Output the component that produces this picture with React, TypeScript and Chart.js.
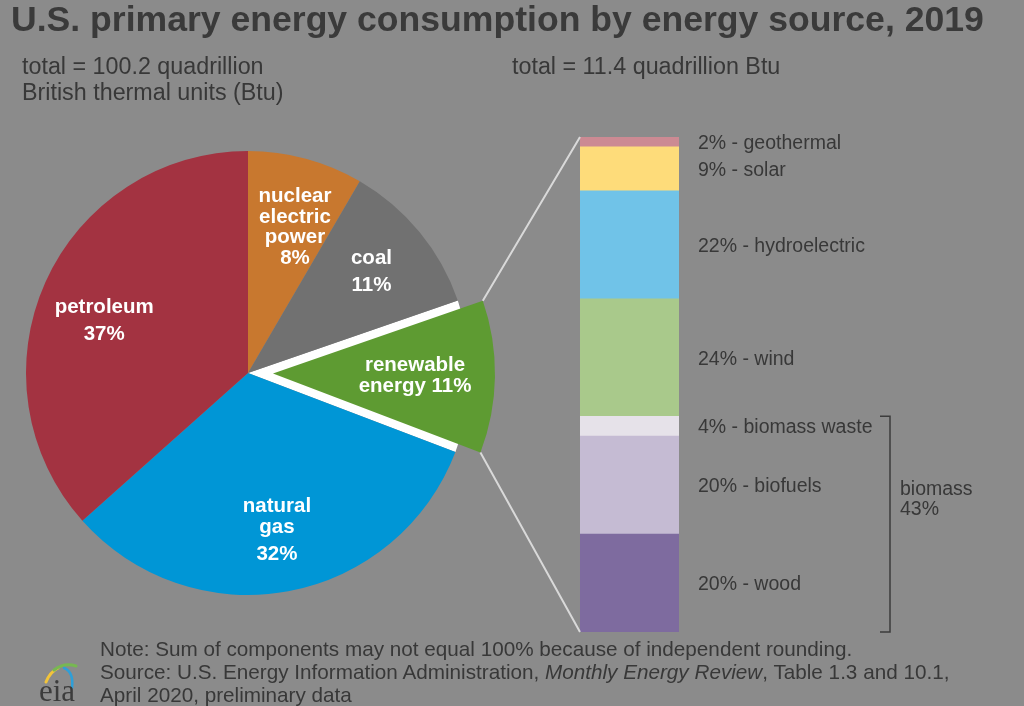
import React, { useEffect, useRef } from 'react';
import { Chart, registerables } from 'chart.js';

Chart.register(...registerables);

// ---- data ----
const pieCategories = ['nuclear electric power', 'coal', 'renewable energy', 'natural gas', 'petroleum'];
const pieValues = [8.4, 11.3, 11.1, 32.6, 36.6];
const pieLabelLines = [
  ['nuclear', 'electric', 'power', '8%'],
  ['coal', '11%'],
  ['renewable', 'energy 11%'],
  ['natural', 'gas', '32%'],
  ['petroleum', '37%'],
];
const renewableCategories = ['wood', 'biofuels', 'biomass waste', 'wind', 'hydroelectric', 'solar', 'geothermal'];
const renewableShares = [20, 20, 4, 24, 22, 9, 2];
const biomassShare = 43;
const pieTotalText = ['total = 100.2 quadrillion', 'British thermal units (Btu)'];
const renewableTotalText = 'total = 11.4 quadrillion Btu';

// ---- styles ----
const BG = '#8b8b8b';
const TEXT = '#383838';
const FONT = '"Liberation Sans", Arial, Helvetica, sans-serif';
const pieColors = ['#c8782f', '#717171', '#5e9b32', '#0096d6', '#a33341'];
const renewableColors = ['#7e6b9f', '#c5bbd3', '#e6e2e9', '#a9c98b', '#70c3e8', '#fedc7a', '#cc8a93'];
const RENEW_INDEX = 2;
const EXPLODE = 25;
const labelRadius = [0.69, 0.72, 0.64, 0.72, 0.69];
const labelNudge = [[7, 2], [0, 0], [0, 0], [0, 0], [-4, 10]];
const labelGaps = [[20.5, 20.5, 20.5], [27], [20.5], [21, 27], [27]];

export default function App() {
  const pieCanvas = useRef<HTMLCanvasElement | null>(null);
  const barCanvas = useRef<HTMLCanvasElement | null>(null);

  useEffect(() => {
    let base = { x: 0, y: 0 };
    const piePlugin = {
      id: 'pieExtras',
      afterDatasetUpdate(chart: any) {
        const arc: any = chart.getDatasetMeta(0).data[RENEW_INDEX];
        const mid = (arc.startAngle + arc.endAngle) / 2;
        base = { x: arc.x, y: arc.y };
        arc.x = base.x + Math.cos(mid) * EXPLODE;
        arc.y = base.y + Math.sin(mid) * EXPLODE;
      },
      beforeDatasetsDraw(chart: any) {
        const arc: any = chart.getDatasetMeta(0).data[RENEW_INDEX];
        const ctx = chart.ctx;
        ctx.save();
        ctx.fillStyle = '#ffffff';
        ctx.beginPath();
        ctx.moveTo(base.x, base.y);
        ctx.arc(base.x, base.y, arc.outerRadius, arc.startAngle, arc.endAngle);
        ctx.closePath();
        ctx.fill();
        ctx.restore();
      },
      afterDatasetsDraw(chart: any) {
        const ctx = chart.ctx;
        const arcs: any[] = chart.getDatasetMeta(0).data;
        ctx.save();
        ctx.fillStyle = '#ffffff';
        ctx.font = `bold 20.5px ${FONT}`;
        ctx.textAlign = 'center';
        ctx.textBaseline = 'middle';
        arcs.forEach((arc, i) => {
          const mid = (arc.startAngle + arc.endAngle) / 2;
          const r = arc.outerRadius * labelRadius[i];
          const cx = arc.x + Math.cos(mid) * r + labelNudge[i][0];
          const cy = arc.y + Math.sin(mid) * r + labelNudge[i][1];
          const lines = pieLabelLines[i];
          const gaps = labelGaps[i];
          const total = gaps.reduce((a, b) => a + b, 0);
          let y = cy - total / 2;
          lines.forEach((line, j) => {
            ctx.fillText(line, cx, y);
            if (j < gaps.length) y += gaps[j];
          });
        });
        ctx.restore();
      },
    };

    const pie = new Chart(pieCanvas.current!, {
      type: 'pie',
      data: {
        labels: pieCategories,
        datasets: [{ data: pieValues, backgroundColor: pieColors, borderWidth: 0, hoverOffset: 0 }],
      },
      options: {
        responsive: false,
        animation: false,
        devicePixelRatio: 1,
        radius: 222,
        layout: { padding: { left: 26, right: 554, top: 151, bottom: 111 } },
        plugins: { legend: { display: false }, tooltip: { enabled: false }, title: { display: false } },
        events: [],
      } as any,
      plugins: [piePlugin],
    });

    const barPlugin = {
      id: 'barExtras',
      afterDatasetsDraw(chart: any) {
        const ctx = chart.ctx;
        const bars: any[] = renewableShares.map((_, i) => chart.getDatasetMeta(i).data[0]);
        const left = bars[0].x - bars[0].width / 2;
        const right = bars[0].x + bars[0].width / 2;
        const top = bars[bars.length - 1].y;
        const bottom = bars[0].base;

        // connector lines from the exploded slice
        const arc: any = pie.getDatasetMeta(0).data[RENEW_INDEX];
        const R = arc.outerRadius;
        ctx.save();
        ctx.strokeStyle = '#d9d9d9';
        ctx.lineWidth = 2;
        ctx.beginPath();
        ctx.moveTo(arc.x + Math.cos(arc.startAngle) * R, arc.y + Math.sin(arc.startAngle) * R);
        ctx.lineTo(left, top);
        ctx.moveTo(arc.x + Math.cos(arc.endAngle) * R, arc.y + Math.sin(arc.endAngle) * R);
        ctx.lineTo(left, bottom);
        ctx.stroke();

        // segment labels
        ctx.fillStyle = TEXT;
        ctx.font = `19.5px ${FONT}`;
        ctx.textAlign = 'left';
        ctx.textBaseline = 'alphabetic';
        bars.forEach((b, i) => {
          const cy = (b.y + b.base) / 2;
          ctx.fillText(`${renewableShares[i]}% - ${renewableCategories[i]}`, right + 19, cy + 7);
        });

        // biomass bracket
        const bTop = bars[2].y;
        const bBottom = bars[0].base;
        const bx = right + 211;
        ctx.strokeStyle = '#3c3c3c';
        ctx.lineWidth = 1.5;
        ctx.beginPath();
        ctx.moveTo(bx - 10, bTop);
        ctx.lineTo(bx, bTop);
        ctx.lineTo(bx, bBottom);
        ctx.lineTo(bx - 10, bBottom);
        ctx.stroke();
        ctx.fillText('biomass', bx + 10, 495);
        ctx.fillText(`${biomassShare}%`, bx + 10, 515);
        ctx.restore();
      },
    };

    const total = renewableShares.reduce((a, b) => a + b, 0);
    const bar = new Chart(barCanvas.current!, {
      type: 'bar',
      data: {
        labels: ['renewable'],
        datasets: renewableShares.map((v, i) => ({
          label: renewableCategories[i],
          data: [v],
          backgroundColor: renewableColors[i],
          borderWidth: 0,
          barPercentage: 1,
          categoryPercentage: 1,
        })),
      },
      options: {
        responsive: false,
        animation: false,
        devicePixelRatio: 1,
        layout: { padding: { left: 580, right: 345, top: 137, bottom: 74 } },
        scales: {
          x: { display: false, stacked: true },
          y: { display: false, stacked: true, min: 0, max: total },
        },
        plugins: { legend: { display: false }, tooltip: { enabled: false } },
        events: [],
      } as any,
      plugins: [barPlugin],
    });

    return () => {
      bar.destroy();
      pie.destroy();
    };
  }, []);

  const abs = (extra: React.CSSProperties): React.CSSProperties => ({
    position: 'absolute',
    whiteSpace: 'nowrap',
    color: TEXT,
    fontFamily: FONT,
    margin: 0,
    ...extra,
  });

  return (
    <div style={{ position: 'fixed', left: 0, top: 0, width: 1024, height: 706, background: BG, overflow: 'hidden' }}>
      <canvas ref={pieCanvas} width={1024} height={706} style={{ position: 'absolute', left: 0, top: 0, width: 1024, height: 706 }} />
      <canvas ref={barCanvas} width={1024} height={706} style={{ position: 'absolute', left: 0, top: 0, width: 1024, height: 706 }} />
      <div style={abs({ left: 11, top: 2, fontSize: 35.6, lineHeight: '35px', fontWeight: 'bold', color: '#3a3a3a' })}>
        U.S. primary energy consumption by energy source, 2019
      </div>
      <div style={abs({ left: 22, top: 53, fontSize: 23.3, lineHeight: '26px' })}>
        {pieTotalText[0]}<br />{pieTotalText[1]}
      </div>
      <div style={abs({ left: 512, top: 53, fontSize: 23.3, lineHeight: '26px' })}>{renewableTotalText}</div>
      <div style={abs({ left: 100, top: 637, fontSize: 20.7, lineHeight: '23px' })}>
        Note: Sum of components may not equal 100% because of independent rounding.<br />
        Source: U.S. Energy Information Administration, <i>Monthly Energy Review</i>, Table 1.3 and 10.1,<br />
        April 2020, preliminary data
      </div>
      <svg width={50} height={50} viewBox="0 0 50 50" style={{ position: 'absolute', left: 34, top: 656 }}>
        <path d="M12 26 Q16 16 24 12" stroke="#f2c43a" strokeWidth={3} fill="none" strokeLinecap="round" />
        <path d="M20 14 Q30 6 42 10" stroke="#77b852" strokeWidth={3} fill="none" strokeLinecap="round" />
        <path d="M30 12 Q40 16 38 32" stroke="#2e9fd8" strokeWidth={2.5} fill="none" strokeLinecap="round" />
      </svg>
      <div style={abs({ left: 39, top: 675, fontSize: 31, lineHeight: '31px', fontFamily: '"Liberation Serif", "Times New Roman", serif', color: '#3c3c3c' })}>
        eia
      </div>
    </div>
  );
}
